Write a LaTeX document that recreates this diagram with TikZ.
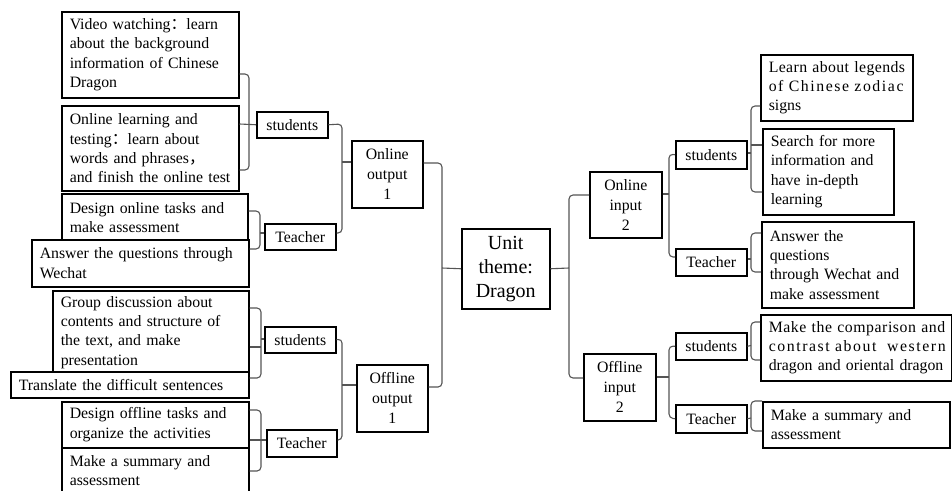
\documentclass[tikz,border=0pt]{standalone}
\usepackage{fontspec}
\setmainfont{Liberation Serif}
\newfontfamily\cjk{Noto Sans CJK SC}
\newcommand\fs{\fontsize{15.8}{19.3}\selectfont}
\newcommand\fsm{\fontsize{15.8}{20}\selectfont}
\newcommand\fsl{\fontsize{20}{24}\selectfont}
\newcommand\lnx[1]{\mbox{#1}}
\definecolor{connc}{RGB}{85,85,85}
\tikzset{
  tbox/.style={draw=black, line width=1.5pt, fill=white, inner xsep=8pt, inner ysep=0pt,
    align=left, anchor=north west, font=\fs},
  cbox/.style={draw=black, line width=1.5pt, fill=white, inner sep=0pt,
    align=center, anchor=north west, font=\fs},
  conn/.style={draw=connc, line width=1.1pt, rounded corners=4pt},
}
\hbadness=10000 \hfuzz=100pt
\begin{document}
\begin{tikzpicture}[x=1pt,y=-1pt]
\fill[white] (0,0) rectangle (952,490);
\useasboundingbox (0,0) rectangle (952,490);
\clip (0,0) rectangle (952,490);

\coordinate (jA) at (249,124);
% ---------- left side leaves ----------
\node[tbox, minimum width=177, minimum height=86, text width=161] (v1) at (61,11)
  {\lnx{Video watching{\cjk ：}learn}\\\lnx{about the background}\\\lnx{information of Chinese}\\\lnx{Dragon}};
\node[tbox, minimum width=177, minimum height=85, text width=161] (v2) at (61,105)
  {\lnx{Online learning and}\\\lnx{testing{\cjk ：}learn about}\\\lnx{words and phrases{\cjk ，}}\\\lnx{and finish the online test}};
\node[tbox, minimum width=186, minimum height=48, text width=170] (v3) at (61,193)
  {\lnx{Design online tasks and}\\\lnx{make assessment}};
\node[tbox, minimum width=217, minimum height=47, text width=201] (v4) at (31,239)
  {\lnx{Answer the questions through}\\\lnx{Wechat}};
\node[tbox, minimum width=196, minimum height=83, text width=180] (v5) at (52,290)
  {\lnx{Group discussion about}\\\lnx{contents and structure of}\\\lnx{the text, and make}\\\lnx{presentation}};
\node[tbox, minimum width=238, minimum height=26, text width=222] (v6) at (10,371)
  {\lnx{Translate the difficult sentences}};
\node[tbox, minimum width=187, minimum height=46, text width=171] (v7) at (61,401)
  {\lnx{Design offline tasks and}\\\lnx{organize the activities}};
\node[tbox, minimum width=187, minimum height=46, text width=171] (v8) at (61,447)
  {\lnx{Make a summary and}\\\lnx{assessment}};

% ---------- left middle ----------
\node[cbox, minimum width=71, minimum height=26] (ls1) at (256,111) {students};
\node[cbox, minimum width=71, minimum height=26] (lt1) at (264,223) {Teacher};
\node[cbox, minimum width=71, minimum height=26] (ls2) at (264,326) {students};
\node[cbox, minimum width=70, minimum height=27] (lt2) at (266,429) {Teacher};
\node[cbox, minimum width=71, minimum height=67, font=\fsm] (oo1) at (351,140) {Online\\output\\1};
\node[cbox, minimum width=71, minimum height=67, font=\fsm] (of1) at (356,364) {Offline\\output\\1};

% ---------- centre ----------
\node[cbox, minimum width=88, minimum height=80, font=\fsl] (c) at (461,228) {Unit\\theme:\\Dragon};

% ---------- right side ----------
\node[cbox, minimum width=72, minimum height=66, font=\fsm] (oi2) at (589,171) {Online\\input\\2};
\node[cbox, minimum width=72, minimum height=67, font=\fsm] (fi2) at (583,353) {Offline\\input\\2};
\node[cbox, minimum width=71, minimum height=28] (rs1) at (675,140) {students};
\node[cbox, minimum width=71, minimum height=27] (rt1) at (675,248) {Teacher};
\node[cbox, minimum width=71, minimum height=27] (rs2) at (675,332) {students};
\node[cbox, minimum width=71, minimum height=28] (rt2) at (675,404) {Teacher};

\node[tbox, minimum width=152, minimum height=66, text width=136] (w1) at (760,54)
  {\lnx{\addfontfeature{LetterSpace=2.5}Learn about legends}\\\lnx{\addfontfeature{LetterSpace=10}of Chinese zodiac}\\\lnx{signs}};
\node[tbox, minimum width=131, minimum height=86, text width=115] (w2) at (762,128)
  {\lnx{Search for more}\\\lnx{information and}\\\lnx{have in-depth}\\\lnx{learning}};
\node[tbox, minimum width=152, minimum height=86, text width=136] (w3) at (761,221)
  {\lnx{Answer the}\\\lnx{questions}\\\lnx{through Wechat and}\\\lnx{make assessment}};
\node[tbox, minimum width=191, minimum height=66, text width=175] (w4) at (760,314)
  {\lnx{\addfontfeature{LetterSpace=3.5}Make the comparison and}\\\lnx{\addfontfeature{LetterSpace=10}contrast about\ \ western}\\\lnx{dragon and oriental dragon}};
\node[tbox, minimum width=187, minimum height=46, text width=171] (w5) at (762,401)
  {\lnx{Make a summary and}\\\lnx{assessment}};

% ---------- connectors ----------
\draw[conn] (v1.east |- 0,74) -- (249,74) -- (249,170) -- (v2.east |- 0,170);
\draw[conn] (v2.east |- jA) -- (ls1.west);
\draw[conn] (v3.east |- 0,211) -- (260,211) -- (260,249) -- (v4.east |- 0,249);
\coordinate (jB) at (260,233);
\draw[conn] (jB) -- (lt1.west |- jB);
\draw[conn] (ls1.east) -- (342,124) -- (342,233) -- (lt1.east |- 0,233);
\coordinate (jC) at (342,162);
\draw[conn] (jC) -- (oo1.west |- jC);
\draw[conn] (v5.east |- 0,308) -- (261,308) -- (261,378) -- (v6.east |- 0,378);
\coordinate (jD) at (261,347);
\draw[conn] (v5.east |- jD) -- (jD);
\coordinate (jD2) at (261,339);
\draw[conn] (jD2) -- (ls2.west |- jD2);
\draw[conn] (v7.east |- 0,410) -- (261,410) -- (261,471) -- (v8.east |- 0,471);
\draw[conn] (v7.east |- 0,440) -- (lt2.west |- 0,440);
\draw[conn] (ls2.east) -- (342,339) -- (342,440) -- (lt2.east |- 0,440);
\coordinate (jF) at (342,385);
\draw[conn] (jF) -- (of1.west |- jF);
\draw[conn] (oo1.east |- 0,163) -- (442,163) -- (442,387) -- (of1.east |- 0,387);
\coordinate (jG) at (442,268);
\draw[conn] (jG) -- (c.west);
\draw[conn] (oi2.west |- 0,195) -- (569,195) -- (569,378) -- (fi2.west |- 0,378);
\coordinate (jH) at (569,268);
\draw[conn] (c.east) -- (jH);
\draw[conn] (rs1.west) -- (669,154) -- (669,257) -- (rt1.west |- 0,257);
\coordinate (jI) at (669,194);
\draw[conn] (oi2.east |- jI) -- (jI);
\draw[conn] (w1.west |- 0,106) -- (751,106) -- (751,192) -- (w2.west |- 0,192);
\coordinate (jJ) at (751,145);
\draw[conn] (jJ) -- (w2.west |- jJ);
\coordinate (jJ2) at (751,153);
\draw[conn] (rs1.east |- jJ2) -- (jJ2);
\draw[conn] (w3.west |- 0,233) -- (751,233) -- (751,272) -- (w3.west |- 0,272);
\coordinate (jK) at (751,259);
\draw[conn] (rt1.east |- jK) -- (jK);
\draw[conn] (rs2.west) -- (669,346) -- (669,418) -- (rt2.west);
\coordinate (jL) at (669,377);
\draw[conn] (fi2.east |- jL) -- (jL);
\draw[conn] (w4.west |- 0,322) -- (751,322) -- (751,360) -- (w4.west |- 0,360);
\coordinate (jM) at (751,345.5);
\draw[conn] (rs2.east) -- (jM);
\draw[conn] (w5.west |- 0,401) -- (751,401) -- (751,431) -- (w5.west |- 0,431);
\coordinate (jN) at (751,418);
\draw[conn] (rt2.east) -- (jN);
\end{tikzpicture}
\end{document}
